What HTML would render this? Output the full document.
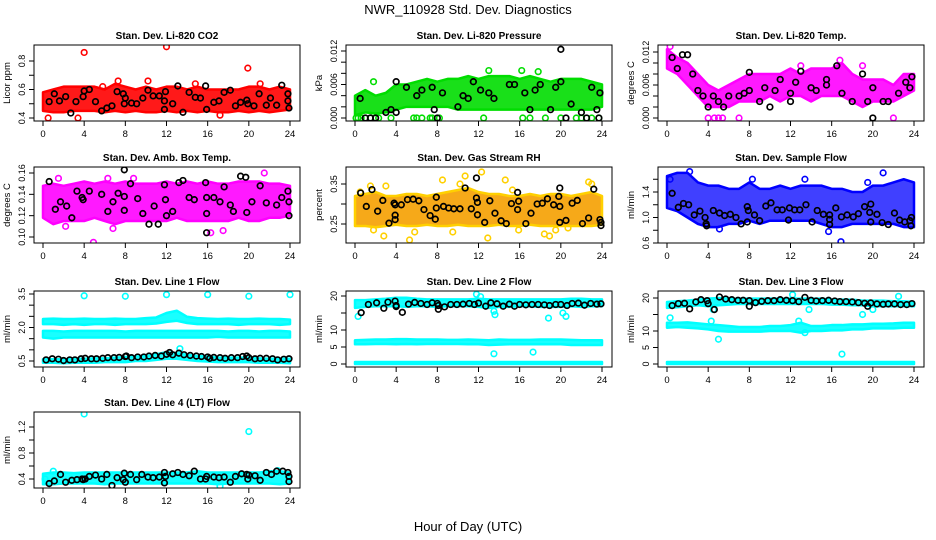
<!DOCTYPE html>
<html><head><meta charset="utf-8"><style>
html,body{margin:0;padding:0;background:#fff}
svg{display:block;font-family:"Liberation Sans",sans-serif}
</style></head><body>
<svg id="chart" width="936" height="540" viewBox="0 0 936 540" xmlns="http://www.w3.org/2000/svg">
<text x="468" y="14" font-size="13" text-anchor="middle">NWR_110928  Std. Dev. Diagnostics</text>
<text x="468" y="531" font-size="13" text-anchor="middle">Hour of Day (UTC)</text>
</svg>
<script>
const BAND_H=[0,1,2,3,4,5,6,7,8,9,10,11,12,13,14,15,16,17,18,19,20,21,22,23,24];
const X_TICKS=[0,4,8,12,16,20,24];

// P1 CO2
const co2Lo=[0.45,0.44,0.44,0.45,0.45,0.45,0.44,0.45,0.44,0.45,0.44,0.44,0.45,0.44,0.45,0.44,0.45,0.44,0.44,0.45,0.44,0.45,0.44,0.45,0.46];
const co2Hi=[0.58,0.6,0.62,0.62,0.62,0.62,0.6,0.64,0.62,0.6,0.62,0.6,0.62,0.62,0.6,0.62,0.6,0.6,0.6,0.6,0.62,0.62,0.6,0.62,0.6];
const co2PtH=[4,12,19.9,0.5,3.4,10.2,7.3,17.2,21.1,14.8,5.8];
const co2PtV=[0.86,0.9,0.75,0.40,0.40,0.66,0.66,0.42,0.64,0.64,0.62];
const co2BkH=[0.6,1.1,1.6,2.2,2.7,3.2,3.9,4.0,4.5,5.1,5.7,6.2,6.7,7.2,7.8,7.9,8.0,8.6,9.1,9.7,10.2,10.7,11.3,11.8,11.9,11.8,12.6,13.1,13.6,14.2,14.8,15.3,15.8,15.9,16.6,17.1,17.6,18.2,18.7,19.2,19.8,19.9,20.5,21.0,21.7,22.1,22.7,23.2,23.8,23.8,23.9];
const co2BkV=[0.515,0.57,0.52,0.55,0.435,0.515,0.55,0.59,0.6,0.515,0.45,0.47,0.485,0.585,0.57,0.5,0.54,0.505,0.5,0.54,0.595,0.555,0.555,0.52,0.585,0.46,0.5,0.625,0.44,0.58,0.545,0.54,0.625,0.46,0.51,0.52,0.58,0.595,0.485,0.51,0.525,0.5,0.485,0.57,0.49,0.54,0.49,0.63,0.57,0.52,0.47];

// P2 Pressure
const prLo=[0.0005,0.001,0.0008,0.001,0.0015,0.002,0.002,0.002,0.002,0.002,0.0015,0.0015,0.0015,0.0015,0.0015,0.0015,0.0015,0.0015,0.0015,0.0015,0.0015,0.0015,0.0015,0.0015,0.002];
const prHi=[0.004,0.005,0.004,0.0045,0.006,0.006,0.0065,0.007,0.0065,0.007,0.007,0.0075,0.007,0.0075,0.0075,0.0075,0.007,0.0075,0.007,0.0065,0.007,0.007,0.007,0.0065,0.006];
const prPtH=[0.1,0.3,0.6,1,1.5,2,2.3,3.5,5.7,6,6.5,7.3,7.5,8.2,12.5,16.3,17,18.5,20,21.5,22,23,23.7,13,1.8,16.2,17.8];
const prPtV=[0,0,0,0,0,0,0,0,0,0,0,0,0,0,0,0,0,0,0,0,0,0,0,0.0085,0.0065,0.0085,0.0083];
const prBkH=[0.5,1,1.5,2,3,3.5,4,4,5,6,6.5,7.5,7.7,8.5,8,10,10.5,11,11.5,12.2,13,13.5,15,15.5,16.5,17,17.5,18,19,19.5,20,20,20.5,21,22,22.5,23,23.5,23.8,23.7];
const prBkV=[0.0035,0,0,0,0.001,0.0015,0.001,0.0065,0.0055,0.004,0.005,0.0055,0.0015,0.0045,0,0.002,0.004,0.0035,0.0065,0.005,0.0045,0.0035,0.006,0.006,0.0045,0.0015,0.005,0.006,0.0015,0.0055,0.0065,0.0123,0,0.0025,0.001,0,0.0055,0.0015,0.0045,0];

// P3 Temp
const tpLo=[0.009,0.008,0.006,0.004,0.002,0.002,0.002,0.003,0.003,0.003,0.004,0.003,0.004,0.004,0.003,0.004,0.004,0.004,0.003,0.002,0.003,0.003,0.003,0.004,0.005];
const tpHi=[0.0125,0.011,0.01,0.008,0.006,0.005,0.006,0.007,0.008,0.008,0.008,0.008,0.009,0.008,0.009,0.009,0.009,0.01,0.008,0.007,0.007,0.007,0.006,0.008,0.008];
const tpPtH=[4,4.6,5,5.4,7,22,0.3,16.8,13,19];
const tpPtV=[0,0,0,0,0,0,0.013,0.0105,0.0095,0.0095];
const tpBkH=[0.5,1,1.5,2,2.5,3,3.5,4,4.5,5,5.5,6,7,7.5,8,8,9,9.5,10,10.5,11,12,12,12.5,13,14,14.5,15.5,15.5,16.5,17,18,19,19.5,20,20,21,21.5,22.5,23.2,23.6,23.8];
const tpBkV=[0.011,0.009,0.0115,0.0115,0.008,0.005,0.004,0.002,0.004,0.003,0.002,0.004,0.004,0.0045,0.005,0.0083,0.003,0.0055,0.002,0.005,0.007,0.0045,0.003,0.0065,0.0085,0.0055,0.005,0.006,0.007,0.0095,0.0045,0.003,0.008,0.003,0.0055,0,0.003,0.003,0.0045,0.0065,0.0055,0.0075];

// P4 Amb box temp
const abLo=[0.118,0.112,0.115,0.115,0.115,0.118,0.115,0.112,0.115,0.115,0.115,0.115,0.115,0.118,0.115,0.115,0.115,0.115,0.115,0.118,0.115,0.115,0.118,0.118,0.12];
const abHi=[0.148,0.15,0.148,0.15,0.152,0.15,0.152,0.15,0.152,0.15,0.15,0.15,0.152,0.15,0.152,0.15,0.152,0.15,0.15,0.152,0.152,0.152,0.15,0.15,0.148];
const abPtH=[4.9,21.5,1.5,6.3,8.8,17.5,16.3,6.8,2.2];
const abPtV=[0.095,0.16,0.155,0.155,0.155,0.106,0.104,0.108,0.11];
const abBkH=[0.6,1.2,1.7,2.3,2.8,3.3,3.8,3.9,4.5,5.7,6.3,6.8,7.3,7.9,7.9,7.9,8.5,9.2,9.7,10.3,10.8,11.2,11.8,11.9,12.0,12.6,13.2,13.6,14.2,14.7,15.8,15.9,15.9,15.9,16.6,17.2,17.6,18.2,18.5,19.2,19.7,19.8,20.3,21.1,21.7,22.7,23.2,23.8,23.9,23.9];
const abBkV=[0.152,0.126,0.133,0.129,0.118,0.143,0.137,0.135,0.143,0.14,0.124,0.133,0.141,0.138,0.125,0.163,0.15,0.136,0.122,0.112,0.129,0.112,0.149,0.135,0.12,0.124,0.151,0.153,0.137,0.135,0.151,0.137,0.122,0.104,0.137,0.133,0.147,0.13,0.124,0.157,0.156,0.123,0.133,0.148,0.132,0.13,0.137,0.143,0.12,0.133];

// P5 Gas stream RH
const rhLo=[0.245,0.245,0.242,0.245,0.248,0.245,0.245,0.248,0.245,0.245,0.248,0.245,0.245,0.245,0.248,0.245,0.245,0.248,0.245,0.245,0.245,0.245,0.245,0.245,0.248];
const rhHi=[0.32,0.325,0.33,0.32,0.32,0.325,0.325,0.32,0.325,0.33,0.335,0.34,0.33,0.325,0.325,0.32,0.32,0.325,0.32,0.325,0.325,0.32,0.325,0.33,0.32];
const rhPtH=[0.5,1.5,1.8,2.8,3.0,5.3,5.8,8.5,9.5,10.2,10.7,12.3,12.9,14.6,15.3,15.9,18.4,18.9,22.7,23,19.5,20.7];
const rhPtV=[0.33,0.345,0.235,0.22,0.345,0.21,0.23,0.36,0.23,0.35,0.37,0.38,0.215,0.36,0.335,0.235,0.225,0.22,0.355,0.35,0.235,0.24];
const rhBkH=[0.55,1.1,1.65,2.2,2.7,3.3,3.8,3.9,3.9,3.9,4.5,5.1,5.65,6.2,6.7,7.3,7.8,7.9,7.9,8.6,9.1,9.6,10.2,10.7,11.3,11.8,11.8,11.9,11.9,12.6,13.1,13.6,14.2,14.7,15.2,15.8,15.9,15.8,16.6,17.1,17.7,18.2,18.7,19.3,19.8,19.9,19.9,19.9,20.5,21.1,21.6,22.1,22.7,23.2,23.8,23.9,23.9];
const rhBkV=[0.3275,0.294,0.336,0.282,0.309,0.252,0.302,0.298,0.272,0.261,0.298,0.311,0.312,0.308,0.286,0.271,0.262,0.29,0.317,0.294,0.29,0.288,0.288,0.34,0.288,0.365,0.315,0.304,0.273,0.254,0.308,0.277,0.258,0.251,0.301,0.329,0.307,0.286,0.251,0.277,0.3,0.302,0.313,0.298,0.319,0.34,0.294,0.254,0.259,0.302,0.309,0.251,0.265,0.337,0.261,0.246,0.254];

// P6 Sample flow
const sfLo=[1.15,1.1,1.0,0.9,0.85,0.85,0.9,0.9,0.95,0.9,0.95,0.95,0.95,0.95,0.95,0.9,0.85,0.85,0.9,0.9,0.9,0.9,0.9,0.85,0.85];
const sfHi=[1.65,1.7,1.7,1.55,1.5,1.5,1.45,1.45,1.55,1.45,1.45,1.5,1.45,1.5,1.5,1.5,1.45,1.45,1.4,1.4,1.5,1.5,1.55,1.6,1.55];
const sfPtH=[16.9,15.7,21,19.5,2.2,0.3,5.1,8.3,13.4];
const sfPtV=[0.62,0.78,1.7,1.55,1.72,1.6,0.82,1.6,1.6];
const sfBkH=[0.5,1.1,1.6,2.1,2.65,3.2,3.7,3.8,3.85,4.5,5.1,5.6,6.15,6.7,7.2,7.8,7.8,7.9,8.5,9.0,9.6,10.1,10.7,11.2,11.8,11.9,12.4,12.9,13.5,14.1,14.6,15.2,15.8,15.8,15.8,16.4,16.95,17.5,18.1,18.6,19.2,19.7,19.8,19.8,20.4,20.9,21.5,22.1,22.6,23.1,23.6,23.7,23.75];
const sfBkV=[1.38,1.16,1.22,1.2,1.04,1.1,1.0,0.9,0.87,1.11,1.07,1.03,1.05,1.0,0.9,0.93,1.17,1.11,1.04,0.95,1.18,1.23,1.12,1.12,0.96,1.15,1.12,1.12,1.2,0.93,1.11,1.05,1.04,0.97,0.89,1.15,1.01,1.04,1.01,1.06,1.17,1.08,1.21,0.93,1.05,0.92,0.89,1.07,0.96,0.93,0.95,0.87,1.0];

// P7 Line 1 flow
const l1aLo=[2.15,2.15,2.12,2.15,2.12,2.15,2.15,2.12,2.15,2.15,2.15,2.18,2.25,2.3,2.2,2.15,2.15,2.15,2.15,2.12,2.15,2.15,2.15,2.12,2.15];
const l1aHi=[2.38,2.4,2.38,2.38,2.4,2.38,2.38,2.4,2.38,2.38,2.42,2.45,2.65,2.75,2.48,2.42,2.4,2.38,2.4,2.38,2.38,2.4,2.38,2.38,2.35];
const l1bLo=[1.55,1.5,1.55,1.55,1.55,1.55,1.55,1.55,1.55,1.55,1.55,1.55,1.55,1.55,1.55,1.55,1.55,1.58,1.55,1.55,1.55,1.55,1.55,1.55,1.55];
const l1bHi=[1.85,1.85,1.82,1.85,1.85,1.85,1.85,1.85,1.82,1.85,1.85,1.85,1.85,1.85,1.85,1.85,1.85,1.85,1.82,1.85,1.85,1.82,1.85,1.85,1.82];
const l1cLo=[0.42,0.42,0.4,0.42,0.42,0.42,0.45,0.45,0.45,0.5,0.5,0.55,0.6,0.6,0.55,0.5,0.48,0.45,0.45,0.45,0.45,0.42,0.42,0.42,0.4];
const l1cHi=[0.58,0.58,0.58,0.6,0.6,0.62,0.62,0.65,0.68,0.7,0.72,0.8,0.9,0.85,0.78,0.72,0.7,0.65,0.65,0.65,0.65,0.62,0.6,0.6,0.6];
const l1PtH=[4,8,12,16,20,24,13.3];
const l1PtV=[3.42,3.4,3.47,3.47,3.4,3.47,1.05];
const l1BkH=[0.3,0.9,1.5,2,2.6,3.1,3.7,4.1,4.7,5.2,5.8,6.3,6.9,7.4,8,8.1,8.6,9.2,9.8,10.3,10.9,11.5,12,12.3,12.6,13.2,13.7,14.3,14.9,15.4,16,16.2,16.6,17.2,17.7,18.3,18.9,19.4,19.8,20,20.6,21.1,21.7,22.3,22.8,23.4,23.9];
const l1BkV=[0.55,0.6,0.58,0.52,0.55,0.55,0.6,0.62,0.6,0.6,0.62,0.65,0.65,0.66,0.7,0.72,0.65,0.68,0.68,0.72,0.75,0.72,0.8,0.88,0.78,0.85,0.78,0.75,0.72,0.7,0.68,0.62,0.66,0.65,0.62,0.65,0.65,0.7,0.72,0.65,0.6,0.62,0.62,0.6,0.55,0.58,0.6];

// P8 Line 2 flow
const l2aLo=[16.5,16.8,17,17,17,16.8,17,17,16.8,17,17,17,16.8,16.5,16.8,16.8,17,17,16.8,16.8,16.8,17,16.8,17,17];
const l2aHi=[18.8,18.8,19,19.2,19.5,19.5,19.2,19,19,19,19,19,19.2,19,19,19,19,19,19,19,19,19.2,19.2,19,19];
const l2bLo=[5.8,5.8,5.9,5.9,5.8,5.9,5.8,5.9,5.9,5.9,5.9,5.8,5.8,5.6,5.7,5.8,5.8,5.8,5.8,5.8,5.8,5.6,5.6,5.6,5.6];
const l2bHi=[7,7.1,7.2,7.2,7.3,7.3,7.2,7.2,7.2,7.1,7.1,7.2,7.1,7,7.2,7.1,7.1,7.1,7.2,7.2,7.2,7.1,7,7,7];
const l2cLo=[0,0,0,0,0,0,0,0,0,0,0,0,0,0,0,0,0,0,0,0,0,0,0,0,0];
const l2cHi=[0.6,0.6,0.6,0.6,0.6,0.6,0.6,0.6,0.6,0.6,0.6,0.6,0.6,0.6,0.6,0.6,0.6,0.6,0.6,0.6,0.6,0.6,0.6,0.6,0.6];
const l2PtH=[0.3,11.8,12.2,13.5,13.6,13.5,17.3,18.8,20.2,20.5];
const l2PtV=[14,20.5,19.8,15.5,14.5,3,3.5,13.5,15,14];
const l2BkH=[0.6,1.3,2.1,2.8,3.2,3.9,4,4,4.6,5.2,5.8,6.4,7,7.5,8,8.1,8.1,8.7,9.3,9.9,10.5,11.1,11.6,12,12.7,13.2,13.8,14.4,15,15.5,16,16.6,17.2,17.8,18.4,18.9,19.5,20,20.6,21.1,21.7,22.3,22.9,23.5,23.9];
const l2BkV=[15.1,17.5,18,16.4,18.2,18.5,17.2,16.9,15.2,17.6,18.1,17.8,17.5,18,17.8,17.2,16.1,16.8,17.5,17.5,17.6,17.8,17.5,17.9,17,18,17.7,17,17.6,17,17.5,17.4,17.5,17.5,17.4,17.2,17.5,17.5,17.2,17.8,17.9,17.3,17.8,17.6,17.7];

// P9 Line 3 flow
const l3aLo=[17,17.2,17.5,17.8,17.5,17.8,18,18.2,18.2,18.2,18.2,18.2,18.2,18.2,18.2,18.2,18,18,17.8,17.8,17.5,17.5,17.5,17.5,17.5];
const l3aHi=[18.8,19,19.2,19.5,19.8,20,19.8,19.8,19.8,19.8,19.8,19.8,19.8,19.8,19.8,19.8,19.5,19.5,19.5,19.2,19.2,19.2,19,19,18.8];
const l3bLo=[11,11.2,11,10.8,10.5,10,9.8,9.8,9.8,9.8,10,10,10,9.5,10,10,10.2,10.2,10.5,10.5,10.8,10.8,10.8,11,11];
const l3bHi=[12.5,12.5,12.6,12.3,12,11.8,11.5,11.2,11.2,11.2,11.5,11.5,11.8,12.5,11.5,11.5,11.8,11.8,12,12,12.2,12.2,12.3,12.5,12.5];
const l3cLo=[0,0,0,0,0,0,0,0,0,0,0,0,0,0,0,0,0,0,0,0,0,0,0,0,0];
const l3cHi=[0.6,0.6,0.6,0.6,0.6,0.6,0.6,0.6,0.6,0.6,0.6,0.6,0.6,0.6,0.6,0.6,0.6,0.6,0.6,0.6,0.6,0.6,0.6,0.6,0.6];
const l3PtH=[0.3,4.3,4.5,5,13.4,12.8,17,19,22.5,20,12.2,13.8];
const l3PtV=[14,13,16.5,7.5,9.5,13,3,15,20.5,16.5,21,16.5];
const l3BkH=[0.5,1.1,1.7,2.2,2.8,3.3,3.9,4.0,4.6,5.1,5.7,6.3,6.9,7.4,8,8,8.6,9.2,9.8,10.4,11,11.6,12.2,12.8,13.4,14,14.5,15.1,15.7,16.3,16.8,17.4,18,18.6,19.2,19.5,19.8,20.4,21,21.5,22.1,22.7,23.3,23.8];
const l3BkV=[17.7,18.3,18.4,16.7,18.8,19.5,19.2,18.3,16.5,20.3,19.7,19.5,19.3,19.3,19.2,17.5,18.6,19,19.2,19.2,19.5,19.3,19.2,18.9,20.2,19.3,19.1,19.2,19.3,19.1,18.9,18.9,18.8,18.6,18.4,17.5,18.5,18.2,18.1,18.2,18.2,18,18,18.3];

// P10 Line 4 flow
const l4Lo=[0.32,0.32,0.33,0.33,0.33,0.33,0.32,0.33,0.33,0.33,0.33,0.33,0.33,0.33,0.33,0.33,0.33,0.32,0.33,0.33,0.33,0.33,0.33,0.32,0.33];
const l4Hi=[0.48,0.5,0.5,0.49,0.5,0.5,0.5,0.5,0.5,0.5,0.5,0.5,0.5,0.5,0.5,0.52,0.5,0.5,0.5,0.5,0.5,0.5,0.52,0.52,0.5];
const l4PtH=[4,20,17.2,1,22.8,0.2];
const l4PtV=[1.4,1.13,0.29,0.52,0.53,0.4];
const l4BkH=[0.6,1.1,1.7,2.2,2.8,3.3,3.8,3.9,4.1,4.5,5.1,5.7,6.2,6.7,7.2,7.8,7.9,8.0,8.5,9.1,9.6,10.2,10.7,11.3,11.8,11.9,11.8,12.6,13.1,13.6,14.2,14.7,15.3,15.8,15.9,16.6,17.1,17.6,18.2,18.7,19.3,19.8,19.9,20,20.6,21.1,21.7,22.2,22.7,23.3,23.8,23.9,23.9];
const l4BkV=[0.33,0.37,0.47,0.35,0.38,0.39,0.4,0.39,0.4,0.44,0.46,0.4,0.47,0.3,0.42,0.39,0.49,0.35,0.47,0.39,0.47,0.43,0.42,0.43,0.5,0.44,0.34,0.48,0.5,0.47,0.45,0.52,0.4,0.4,0.44,0.43,0.42,0.43,0.35,0.44,0.48,0.47,0.4,0.46,0.45,0.38,0.5,0.47,0.52,0.52,0.5,0.36,0.44];

const COL_LEFT=[34,346,658], ROW_TOP=[45,167,291,412], BW=266, BH=76;
const panels=[
 {id:'co2',title:'Stan. Dev. Li-820 CO2',yl:'Licor ppm',c:0,r:0,col:'#ff0000',y:[0.4,73,0.8,16],ticks:[0.4,0.5,0.6,0.7,0.8],lab:['0.4','','0.6','','0.8'],bands:[[co2Lo,co2Hi]],pH:co2PtH,pV:co2PtV,bH:co2BkH,bV:co2BkV},
 {id:'pressure',title:'Stan. Dev. Li-820 Pressure',yl:'kPa',c:1,r:0,col:'#00dd00',y:[0,73,0.012,6],ticks:[0,0.002,0.004,0.006,0.008,0.01,0.012],lab:['0.000','','','0.006','','','0.012'],bands:[[prLo,prHi]],pH:prPtH,pV:prPtV,bH:prBkH,bV:prBkV},
 {id:'temp',title:'Stan. Dev. Li-820 Temp.',yl:'degrees C',c:2,r:0,col:'#ff00ff',y:[0,73,0.012,7],ticks:[0,0.002,0.004,0.006,0.008,0.01,0.012],lab:['0.000','','','0.006','','','0.012'],bands:[[tpLo,tpHi]],pH:tpPtH,pV:tpPtV,bH:tpBkH,bV:tpBkV},
 {id:'ambbox',title:'Stan. Dev. Amb. Box Temp.',yl:'degrees C',c:0,r:1,col:'#ff00ff',y:[0.16,6,0.10,70],ticks:[0.10,0.12,0.14,0.16],lab:['0.10','0.12','0.14','0.16'],bands:[[abLo,abHi]],pH:abPtH,pV:abPtV,bH:abBkH,bV:abBkV},
 {id:'rh',title:'Stan. Dev. Gas Stream RH',yl:'percent',c:1,r:1,col:'#f5a000',ring:'#ffd000',y:[0.35,17,0.25,57],ticks:[0.25,0.30,0.35],lab:['0.25','','0.35'],bands:[[rhLo,rhHi]],pH:rhPtH,pV:rhPtV,bH:rhBkH,bV:rhBkV},
 {id:'sampleflow',title:'Stan. Dev. Sample Flow',yl:'ml/min',c:2,r:1,col:'#0000ff',op:0.75,y:[1.4,25,0.6,76],ticks:[0.6,0.8,1.0,1.2,1.4,1.6],lab:['0.6','','1.0','','1.4',''],bands:[[sfLo,sfHi]],pH:sfPtH,pV:sfPtV,bH:sfBkH,bV:sfBkV},
 {id:'line1',title:'Stan. Dev. Line 1 Flow',yl:'ml/min',c:0,r:2,col:'#00ffff',y:[3.5,3,0.5,70],ticks:[0.5,1,1.5,2,2.5,3,3.5],lab:['0.5','','','2.0','','','3.5'],bands:[[l1aLo,l1aHi],[l1bLo,l1bHi],[l1cLo,l1cHi]],pH:l1PtH,pV:l1PtV,bH:l1BkH,bV:l1BkV},
 {id:'line2',title:'Stan. Dev. Line 2 Flow',yl:'ml/min',c:1,r:2,col:'#00ffff',y:[20,5,0,73],ticks:[0,5,10,15,20],lab:['0','5','10','','20'],bands:[[l2aLo,l2aHi],[l2bLo,l2bHi],[l2cLo,l2cHi]],pH:l2PtH,pV:l2PtV,bH:l2BkH,bV:l2BkV},
 {id:'line3',title:'Stan. Dev. Line 3 Flow',yl:'ml/min',c:2,r:2,col:'#00ffff',y:[20,7,0,73],ticks:[0,5,10,15,20],lab:['0','5','10','','20'],bands:[[l3aLo,l3aHi],[l3bLo,l3bHi],[l3cLo,l3cHi]],pH:l3PtH,pV:l3PtV,bH:l3BkH,bV:l3BkV},
 {id:'line4',title:'Stan. Dev. Line 4 (LT) Flow',yl:'ml/min',c:0,r:3,col:'#00ffff',y:[0.4,67,1.2,15],ticks:[0.4,0.6,0.8,1.0,1.2],lab:['0.4','','0.8','','1.2'],bands:[[l4Lo,l4Hi]],pH:l4PtH,pV:l4PtV,bH:l4BkH,bV:l4BkV}
];
const NS='http://www.w3.org/2000/svg';
const svg=document.getElementById('chart');
function mk(tag,attrs,parent){const e=document.createElementNS(NS,tag);for(const k in attrs)e.setAttribute(k,attrs[k]);(parent||svg).appendChild(e);return e;}
panels.forEach(p=>{
 const L=COL_LEFT[p.c],T=ROW_TOP[p.r];
 const xs=h=>L+9+h*247/24;
 const ys=v=>T+p.y[1]+(v-p.y[0])*(p.y[3]-p.y[1])/(p.y[2]-p.y[0]);
 const g=mk('g',{});
 
 
 const t=mk('text',{x:L+BW/2,y:T-6,'font-size':'10','font-weight':'bold','text-anchor':'middle'},g);t.textContent=p.title;
 
 
 const clip=mk('clipPath',{id:'cl-'+p.id},g);mk('rect',{x:L,y:T,width:BW,height:BH},clip);
 const plot=mk('g',{'clip-path':'url(#cl-'+p.id+')'},g);
 p.bands.forEach((b,bi)=>{
  let d='M'+BAND_H.map((h,i)=>xs(h)+','+ys(b[1][i])).join('L');
  d+='L'+BAND_H.slice().reverse().map((h,j)=>{const i=BAND_H.length-1-j;return xs(h)+','+ys(b[0][i]);}).join('L')+'Z';
  const pa=mk('path',{d:d,fill:p.col,'fill-opacity':p.op||0.9,stroke:p.ring||p.col,'stroke-width':2.5,'stroke-linejoin':'round'},plot);
  
  
 });
 p.pH.forEach((h,i)=>{
  const c=mk('circle',{cx:xs(h),cy:ys(p.pV[i]),r:2.8,fill:'none',stroke:p.ring||p.col,'stroke-width':1.6},plot);
  
  
 });
 p.bH.forEach((h,i)=>{
  const c=mk('circle',{cx:xs(h),cy:ys(p.bV[i]),r:2.8,fill:'none',stroke:'#000','stroke-width':1.7},plot);
  
  
 });
 const box=mk('rect',{x:L,y:T,width:BW,height:BH,fill:'none',stroke:'#000','stroke-width':1},g);
 
 
 X_TICKS.forEach(h=>{
  mk('line',{x1:xs(h),x2:xs(h),y1:T+BH,y2:T+BH+5,stroke:'#000'},g);
  const tx=mk('text',{x:xs(h),y:T+BH+16,'font-size':'9.5','text-anchor':'middle'},g);tx.textContent=h;
  
  
 });
 p.ticks.forEach((v,i)=>{
  const y=ys(v);
  mk('line',{x1:L-5,x2:L,y1:y,y2:y,stroke:'#000'},g);
  if(p.lab[i]){const ty=mk('text',{x:L-9,y:y,'font-size':'9','text-anchor':'middle',transform:'rotate(-90 '+(L-9)+' '+y+')'},g);ty.textContent=p.lab[i];
   
   }
 });
 const yl=mk('text',{x:L-24,y:T+BH/2,'font-size':'9.5','text-anchor':'middle',transform:'rotate(-90 '+(L-24)+' '+(T+BH/2)+')'},g);yl.textContent=p.yl;
 
 
});
</script>
</body></html>
